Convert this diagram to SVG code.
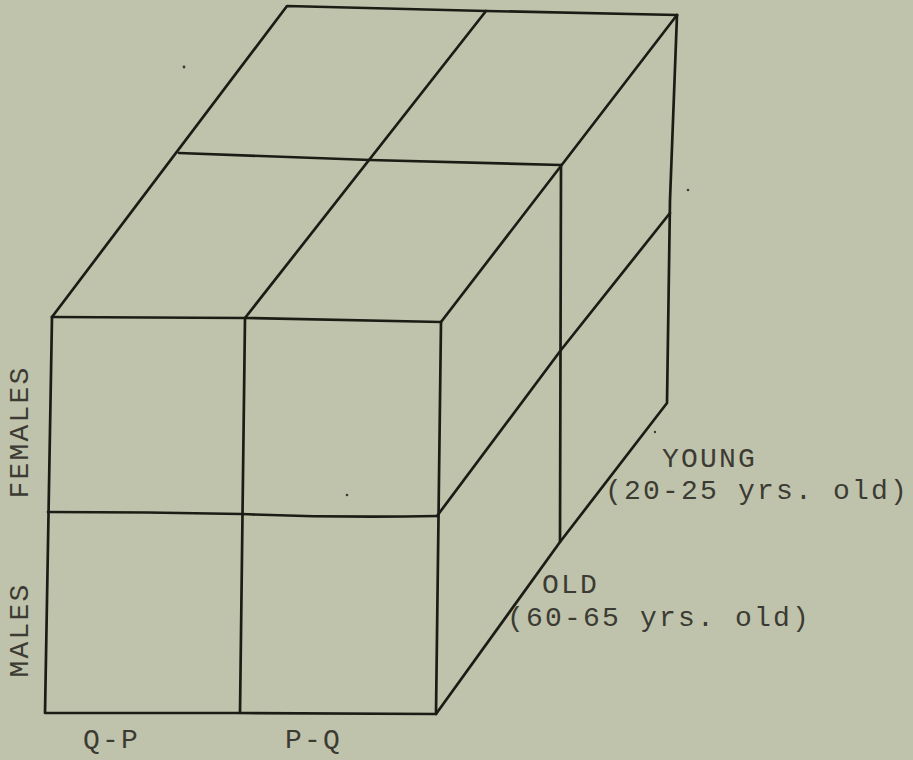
<svg xmlns="http://www.w3.org/2000/svg" width="913" height="760" viewBox="0 0 913 760">
<style>
.ln{fill:none;stroke:#1c1c16;stroke-width:2.7;stroke-linejoin:round;stroke-linecap:round}
.tx{font-family:"Liberation Mono","DejaVu Sans Mono",monospace;font-size:28px;letter-spacing:2.2px;fill:#3b3b33}
.sp{fill:#3b3b33}
</style>
<rect width="913" height="760" fill="#c0c3ab"/>
<g id="top-face">
<path class="ln" d="M52,317 L287,6 L486,11 L677,15"/>
<path class="ln" d="M245,318 L486,11"/>
<path class="ln" d="M441,322 L677,15"/>
<path class="ln" d="M179,153 L370,160 L561,165"/>
</g>
<g id="front-face">
<path class="ln" d="M52,317 L245,318 L441,322"/>
<path class="ln" d="M52,317 L45,713 L240,713 L436,714 L441,322"/>
<path class="ln" d="M245,318 L240,713"/>
<path class="ln" d="M48,512 Q150,512 241,514 Q340,518 437,516"/>
</g>
<g id="side-face">
<path class="ln" d="M677,15 L670,200 L667,403 L560,542 L436,714"/>
<path class="ln" d="M561,165 L560,542"/>
<path class="ln" d="M437,516 L561,350 L670,213"/>
</g>
<g id="labels">
<text class="tx" transform="translate(28,432) rotate(-90)" text-anchor="middle">FEMALES</text>
<text class="tx" transform="translate(28,630) rotate(-90)" text-anchor="middle">MALES</text>
<text class="tx" x="83" y="748">Q-P</text>
<text class="tx" x="285" y="748">P-Q</text>
<text class="tx" x="662" y="467">YOUNG</text>
<text class="tx" x="605" y="499">(20-25 yrs. old)</text>
<text class="tx" x="542" y="593">OLD</text>
<text class="tx" x="507" y="626">(60-65 yrs. old)</text>
</g>
<g id="specks">
<circle class="sp" cx="184" cy="67" r="1.4"/>
<circle class="sp" cx="688" cy="190" r="1.3"/>
<circle class="sp" cx="655" cy="432" r="1.2"/>
<circle class="sp" cx="347" cy="495" r="1.3"/>
</g>
</svg>
